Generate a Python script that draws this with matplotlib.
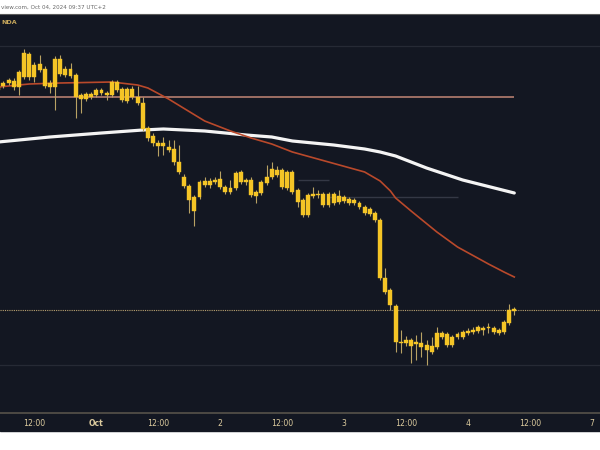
import matplotlib
matplotlib.use("Agg")
import matplotlib.pyplot as plt
from matplotlib.patches import Rectangle
import numpy as np

# ---- data (hour index from Sep 30 00:00, 1h candles; weekend compressed) ----
hours = list(range(5, 106))
opens = [1.3360, 1.3364, 1.3367, 1.3369, 1.3363, 1.3373, 1.3396, 1.3373, 1.3380, 1.3381,
         1.3363, 1.3363, 1.3391, 1.3375, 1.3381, 1.3375, 1.3355, 1.3351, 1.3356, 1.3355,
         1.3360, 1.3357, 1.3355, 1.3368, 1.3361, 1.3349, 1.3361, 1.3353, 1.3347, 1.3322,
         1.3314, 1.3307, 1.3304, 1.3303, 1.3301, 1.3288, 1.3273, 1.3264, 1.3253, 1.3253,
         1.3265, 1.3269, 1.3268, 1.3271, 1.3263, 1.3258, 1.3262, 1.3278, 1.3268, 1.3270,
         1.3254, 1.3257, 1.3267, 1.3273, 1.3280, 1.3280, 1.3262, 1.3278, 1.3260, 1.3250,
         1.3235, 1.3254, 1.3256, 1.3256, 1.3245, 1.3256, 1.3248, 1.3253, 1.3251, 1.3247,
         1.3247, 1.3243, 1.3241, 1.3237, 1.3230, 1.3172, 1.3160, 1.3144, 1.3108, 1.3107,
         1.3110, 1.3106, 1.3107, 1.3105, 1.3104, 1.3103, 1.3117, 1.3116, 1.3105, 1.3113,
         1.3113, 1.3117, 1.3118, 1.3119, 1.3122, 1.3122, 1.3122, 1.3120, 1.3118, 1.3127,
         1.3139]
highs = [1.3365, 1.3369, 1.3372, 1.3372, 1.3380, 1.3401, 1.3398, 1.3388, 1.3395, 1.3384,
         1.3370, 1.3394, 1.3395, 1.3384, 1.3387, 1.3377, 1.3357, 1.3358, 1.3358, 1.3362,
         1.3362, 1.3359, 1.3370, 1.3370, 1.3363, 1.3363, 1.3364, 1.3364, 1.3353, 1.3324,
         1.3317, 1.3310, 1.3313, 1.3310, 1.3310, 1.3305, 1.3276, 1.3266, 1.3255, 1.3270,
         1.3273, 1.3272, 1.3273, 1.3279, 1.3265, 1.3270, 1.3279, 1.3280, 1.3272, 1.3273,
         1.3260, 1.3270, 1.3285, 1.3288, 1.3284, 1.3282, 1.3280, 1.3280, 1.3262, 1.3252,
         1.3257, 1.3263, 1.3260, 1.3258, 1.3258, 1.3258, 1.3260, 1.3255, 1.3253, 1.3252,
         1.3249, 1.3245, 1.3243, 1.3239, 1.3232, 1.3182, 1.3162, 1.3146, 1.3120, 1.3114,
         1.3112, 1.3115, 1.3118, 1.3110, 1.3113, 1.3123, 1.3119, 1.3118, 1.3115, 1.3118,
         1.3120, 1.3122, 1.3123, 1.3125, 1.3124, 1.3127, 1.3124, 1.3122, 1.3130, 1.3146,
         1.3143]
lows = [1.3358, 1.3362, 1.3365, 1.3360, 1.3355, 1.3371, 1.3370, 1.3368, 1.3378, 1.3362,
        1.3357, 1.3340, 1.3374, 1.3373, 1.3372, 1.3332, 1.3337, 1.3349, 1.3351, 1.3353,
        1.3355, 1.3350, 1.3353, 1.3358, 1.3348, 1.3347, 1.3351, 1.3345, 1.3319, 1.3309,
        1.3304, 1.3294, 1.3295, 1.3298, 1.3285, 1.3276, 1.3262, 1.3237, 1.3224, 1.3251,
        1.3263, 1.3262, 1.3266, 1.3261, 1.3256, 1.3256, 1.3260, 1.3266, 1.3265, 1.3253,
        1.3247, 1.3255, 1.3265, 1.3271, 1.3273, 1.3261, 1.3260, 1.3256, 1.3243, 1.3233,
        1.3233, 1.3252, 1.3252, 1.3243, 1.3243, 1.3245, 1.3246, 1.3247, 1.3245, 1.3245,
        1.3241, 1.3235, 1.3234, 1.3228, 1.3170, 1.3156, 1.3140, 1.3098, 1.3097, 1.3104,
        1.3087, 1.3090, 1.3093, 1.3085, 1.3096, 1.3101, 1.3111, 1.3103, 1.3103, 1.3111,
        1.3111, 1.3115, 1.3116, 1.3117, 1.3115, 1.3117, 1.3116, 1.3115, 1.3116, 1.3125,
        1.3135]
closes = [1.3363, 1.3367, 1.3370, 1.3363, 1.3378, 1.3397, 1.3373, 1.3385, 1.3386, 1.3364,
          1.3367, 1.3391, 1.3376, 1.3381, 1.3374, 1.3353, 1.3351, 1.3356, 1.3353, 1.3360,
          1.3357, 1.3355, 1.3368, 1.3360, 1.3350, 1.3361, 1.3353, 1.3347, 1.3321, 1.3312,
          1.3307, 1.3304, 1.3307, 1.3300, 1.3288, 1.3278, 1.3264, 1.3250, 1.3239, 1.3268,
          1.3269, 1.3265, 1.3270, 1.3263, 1.3258, 1.3262, 1.3277, 1.3268, 1.3270, 1.3255,
          1.3258, 1.3268, 1.3273, 1.3281, 1.3275, 1.3263, 1.3278, 1.3258, 1.3248, 1.3235,
          1.3255, 1.3256, 1.3255, 1.3245, 1.3256, 1.3247, 1.3254, 1.3249, 1.3247, 1.3250,
          1.3243, 1.3237, 1.3236, 1.3230, 1.3172, 1.3158, 1.3145, 1.3108, 1.3107, 1.3110,
          1.3104, 1.3108, 1.3103, 1.3100, 1.3098, 1.3117, 1.3113, 1.3105, 1.3113, 1.3116,
          1.3118, 1.3119, 1.3120, 1.3123, 1.3120, 1.3123, 1.3118, 1.3117, 1.3128, 1.3140,
          1.3141]

# moving averages
ema_fast_h = [5, 11, 17, 27, 32, 34, 38, 45, 50, 54, 58, 62, 69, 76, 79, 81, 82, 85, 90, 94, 100, 103, 105]
ema_fast_v = [1.3363, 1.3366, 1.3367, 1.3368, 1.3365, 1.3362, 1.3351, 1.3329, 1.3319, 1.3312, 1.3306,
              1.3298, 1.3288, 1.3278, 1.3269, 1.3259, 1.3252, 1.3239, 1.3218, 1.3203, 1.3186, 1.3178, 1.3173]
ema_slow_h = [5, 15, 25, 33, 37, 45, 53, 58, 62, 70, 76, 79, 82, 88, 95, 105]
ema_slow_v = [1.3308, 1.3313, 1.3317, 1.3320, 1.3321, 1.3319, 1.3315, 1.3313, 1.3309, 1.3305,
              1.3301, 1.3298, 1.3294, 1.3282, 1.3270, 1.3257]

level_price = 1.3353          # horizontal level line
last_price = 1.3140           # dotted current-price line
grid_prices = [1.3404, 1.3085]
faint_segments = [(63, 69, 1.3270), (69, 94, 1.3253)]

tick_hours = [12, 24, 36, 48, 60, 72, 84, 96, 108, 120]
tick_labels = ["12:00", "Oct", "12:00", "2", "12:00", "3", "12:00", "4", "12:00", "7"]

# ---- drawing ----
BG = "#131722"
W, H = 600, 450
fig = plt.figure(figsize=(6, 4.5), dpi=100, facecolor="white")
ax_top, ax_bot = 14, 413
fig.patches.append(Rectangle((0, (H - 431) / H), 1, (431 - ax_bot) / H,
                             transform=fig.transFigure, color=BG, zorder=-5))
ax = fig.add_axes([0, (H - ax_bot) / H, 1, (ax_bot - ax_top) / H], facecolor=BG)
ax.set_zorder(2)

ax.set_xlim(5.333, 121.61)
ax.set_ylim(1.3037, 1.3436)

for g in grid_prices:
    ax.axhline(g, color="#262a35", lw=0.9, zorder=1)
for a, b, v in faint_segments:
    ax.hlines(v, a, b, color="#343845", lw=1.0, zorder=1)

ax.hlines(level_price, 5.333, 105, color="#a8766a", lw=1.3, zorder=2)
ax.axhline(last_price, color="#b9a271", lw=0.8, ls=(0, (1, 1)), zorder=2)

ax.plot(ema_slow_h, ema_slow_v, color="#f4f4f4", lw=2.3, zorder=3,
        solid_capstyle="round", solid_joinstyle="round")
ax.plot(ema_fast_h, ema_fast_v, color="#b9492b", lw=1.2, zorder=3,
        solid_joinstyle="round")

o = np.array(opens); c = np.array(closes)
hi = np.array(highs); lo = np.array(lows)
x = np.array(hours)
ax.vlines(x, lo, hi, color="#b8a264", lw=0.8, zorder=4)
bottoms = np.minimum(o, c)
heights = np.maximum(np.abs(c - o), 0.00014)
ax.bar(x, heights, bottom=bottoms, width=0.76, color="#f5c526",
       edgecolor="#f5c526", linewidth=0.3, zorder=5)

ax.set_yticks([])
ax.set_xticks(tick_hours)
ax.set_xticklabels(tick_labels)
ax.tick_params(axis="x", length=0, pad=4.0, labelsize=5.6, labelcolor="#dccb9e")
for lab in ax.get_xticklabels():
    if lab.get_text() == "Oct":
        lab.set_fontweight("bold")

for s in ("left", "right"):
    ax.spines[s].set_visible(False)
ax.spines["bottom"].set_color("#4d4a44")
ax.spines["bottom"].set_linewidth(1.4)
ax.spines["top"].set_color("#5a5a5a")
ax.spines["top"].set_linewidth(0.8)

fig.text(0.002, (H - 7) / H, "view.com, Oct 04, 2024 09:37 UTC+2", fontsize=4.1,
         color="#6a6a6a", va="center", ha="left")
fig.text(0.002, (H - 22) / H, "NDA", fontsize=4.6, color="#c9a95c",
         va="center", ha="left", fontweight="bold", zorder=10)

fig.savefig("out.png", dpi=100, facecolor="white")
